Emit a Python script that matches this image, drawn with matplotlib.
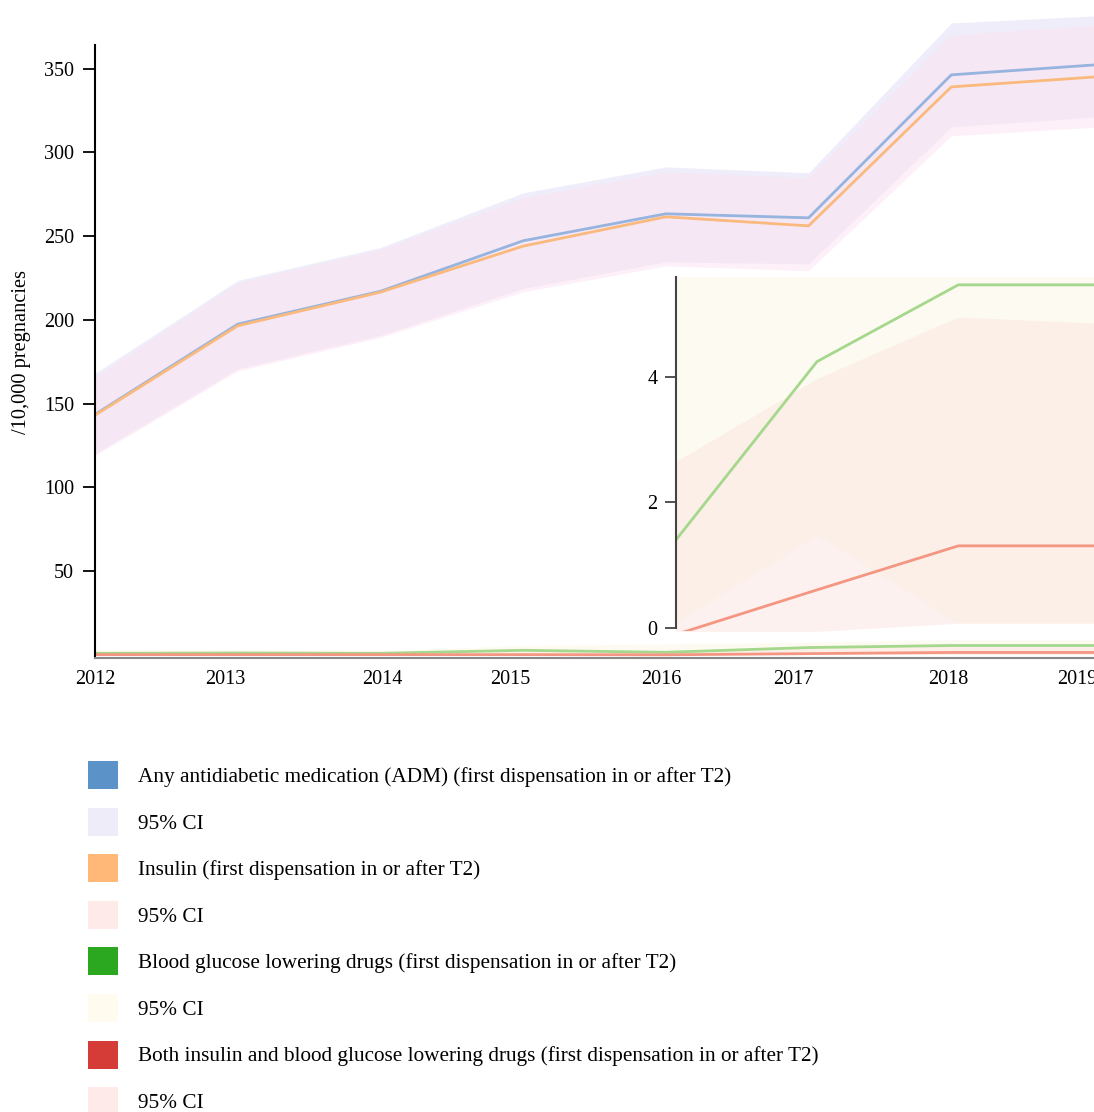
import matplotlib
matplotlib.use("Agg")
import matplotlib.pyplot as plt
from matplotlib.patches import Patch

plt.rcParams['font.family'] = ['Liberation Serif', 'DejaVu Serif']

# --- datos ---
years = [2012, 2013, 2014, 2015, 2016, 2017, 2018, 2019]

adm = [143.5, 197.4, 217.0, 247.2, 263.3, 260.9, 346.3, 352.2]
adm_lo = [120.0, 170.7, 190.7, 218.7, 234.6, 233.4, 315.2, 321.0]
adm_hi = [168.0, 223.5, 243.2, 275.8, 291.3, 287.8, 377.3, 381.5]

insulin = [143.0, 196.4, 216.5, 244.0, 261.5, 256.1, 339.1, 345.0]
ins_lo = [119.0, 169.5, 189.5, 216.7, 232.2, 229.3, 309.9, 315.0]
ins_hi = [166.0, 222.0, 242.0, 272.8, 288.4, 284.8, 370.1, 376.0]

glucose = [0.8, 1.0, 0.8, 2.6, 1.4, 4.24, 5.46, 5.46]
glu_lo = [0.0, 0.0, 0.0, 0.4, 0.1, 1.48, 0.08, 0.08]
glu_hi = [3.0, 3.0, 2.5, 5.5, 6.5, 7.5, 9.0, 9.0]

both = [0.0, 0.0, 0.0, 0.0, -0.1, 0.61, 1.31, 1.31]
both_lo = [-0.05, -0.05, -0.05, -0.05, -0.05, -0.05, 0.08, 0.08]
both_hi = [1.5, 1.5, 1.5, 1.8, 2.65, 3.97, 4.95, 4.85]

xtick_labels = ['2012', '2013', '2014', '2015', '2016', '2017', '2018', '2019']
legend_labels = [
    'Any antidiabetic medication (ADM) (first dispensation in or after T2)',
    '95% CI',
    'Insulin (first dispensation in or after T2)',
    '95% CI',
    'Blood glucose lowering drugs (first dispensation in or after T2)',
    '95% CI',
    'Both insulin and blood glucose lowering drugs (first dispensation in or after T2)',
    '95% CI',
]

# colores
c_adm, c_ins, c_glu, c_both = '#96b4de', '#fab97d', '#a5d78c', '#f49682'
legend_colors = ['#5b92c8', '#efecfa', '#ffb877', '#ffeaea',
                 '#2ca820', '#fffcef', '#d63c37', '#ffeaea']

W, H = 1094, 1112
fig = plt.figure(figsize=(W / 100, H / 100), dpi=100)

# --- eje principal ---
ax = fig.add_axes([95 / W, 1 - 658 / H, 999 / W, 658 / H])
ax.set_facecolor('none')

ax.fill_between(years, adm_lo, adm_hi, color='#e1ddf5', alpha=0.5, lw=0)
ax.fill_between(years, ins_lo, ins_hi, color='#fde2f2', alpha=0.5, lw=0)
ax.fill_between(years, glu_lo, glu_hi, color='#fdf9e5', alpha=0.5, lw=0)
ax.fill_between(years, both_lo, both_hi, color='#fae4de', alpha=0.5, lw=0)
ax.plot(years, adm, color=c_adm, lw=2)
ax.plot(years, insulin, color=c_ins, lw=2)
ax.plot(years, glucose, color=c_glu, lw=2)
ax.plot(years, both, color=c_both, lw=2)

ax.set_xlim(2012, 2019)
ax.set_ylim(-2, 391)

for s in ['top', 'right']:
    ax.spines[s].set_visible(False)
ax.spines['left'].set_bounds(-2, 364)
ax.spines['left'].set_linewidth(1.5)
ax.spines['bottom'].set_color('#888888')
ax.spines['bottom'].set_linewidth(1.5)

ax.set_yticks([50, 100, 150, 200, 250, 300, 350])
ax.tick_params(axis='y', length=9, width=1.3, pad=6, labelsize=14.5)
ax.set_xticks([2012.0, 2012.91, 2014.01, 2014.91, 2015.97, 2016.89, 2017.98, 2018.88],
              xtick_labels)
ax.tick_params(axis='x', length=0, pad=9, labelsize=14.5)

fig.text(22 / W, 1 - 352 / H, '/10,000 pregnancies', rotation=90,
         ha='center', va='center', fontsize=14.7)

# --- recuadro ampliado ---
ins_ax = fig.add_axes([675.7 / W, 1 - 631.4 / H, 423.9 / W, 354.1 / H])
ins_ax.set_facecolor('white')
ins_ax.fill_between(years, glu_lo, glu_hi, color='#fdf9e5', alpha=0.5, lw=0)
ins_ax.fill_between(years, both_lo, both_hi, color='#fae4de', alpha=0.5, lw=0)
ins_ax.plot(years, glucose, color=c_glu, lw=2)
ins_ax.plot(years, both, color=c_both, lw=2)
ins_ax.set_xlim(2016, 2019)
ins_ax.set_ylim(-0.05, 5.58)
for s in ['top', 'right', 'bottom']:
    ins_ax.spines[s].set_visible(False)
ins_ax.spines['left'].set_bounds(0, 5.58)
ins_ax.spines['left'].set_color('#444444')
ins_ax.spines['left'].set_linewidth(1.5)
ins_ax.set_xticks([])
ins_ax.set_yticks([0, 2, 4])
ins_ax.tick_params(axis='y', length=8, width=1.3, pad=5, labelsize=14.5, color='#444444')

# --- leyenda ---
handles = [Patch(facecolor=c, edgecolor='none') for c in legend_colors]
fig.legend(handles, legend_labels, loc='upper left',
           bbox_to_anchor=(88 / W, 1 - 761 / H), frameon=False, fontsize=15.3,
           handlelength=1.41, handleheight=1.65, handletextpad=0.94,
           labelspacing=0.875, borderpad=0, borderaxespad=0)

fig.savefig('out.png', dpi=100)
